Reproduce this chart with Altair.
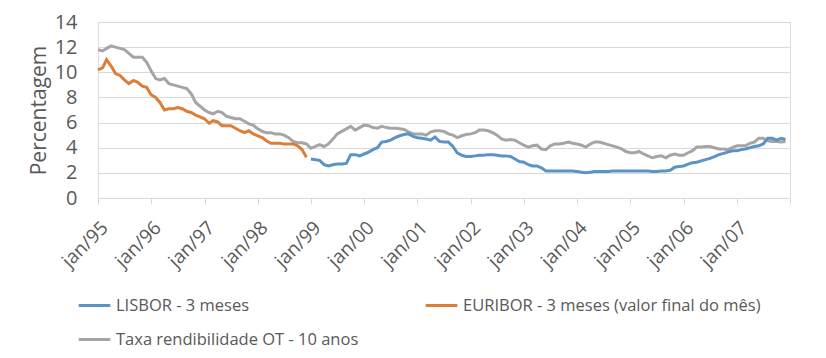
import altair as alt
import pandas as pd

# Monthly values, one list per year (jan..dec)
ot_10y = {
    1995: [11.8, 11.7, 11.9, 12.1, 12.0, 11.9, 11.8, 11.5, 11.2, 11.2, 11.2, 10.8],
    1996: [10.1, 9.5, 9.4, 9.5, 9.1, 9.0, 8.9, 8.8, 8.7, 8.3, 7.6, 7.3],
    1997: [7.0, 6.8, 6.7, 6.9, 6.8, 6.5, 6.4, 6.3, 6.3, 6.1, 5.9, 5.8],
    1998: [5.5, 5.3, 5.2, 5.2, 5.1, 5.1, 5.0, 4.8, 4.5, 4.4, 4.4, 4.3],
    1999: [3.95, 4.1, 4.25, 4.1, 4.3, 4.7, 5.1, 5.3, 5.5, 5.7, 5.4, 5.6],
    2000: [5.8, 5.75, 5.6, 5.55, 5.7, 5.6, 5.55, 5.55, 5.5, 5.45, 5.25, 5.1],
    2001: [5.1, 5.1, 5.0, 5.25, 5.35, 5.35, 5.3, 5.1, 5.0, 4.8, 4.95, 5.05],
    2002: [5.1, 5.2, 5.4, 5.4, 5.35, 5.2, 5.0, 4.7, 4.6, 4.65, 4.6, 4.4],
    2003: [4.2, 4.05, 4.15, 4.2, 3.9, 3.85, 4.15, 4.3, 4.3, 4.35, 4.45, 4.35],
    2004: [4.3, 4.2, 4.05, 4.3, 4.45, 4.45, 4.35, 4.25, 4.15, 4.05, 3.9, 3.7],
    2005: [3.6, 3.6, 3.7, 3.5, 3.35, 3.2, 3.3, 3.35, 3.2, 3.4, 3.5, 3.4],
    2006: [3.4, 3.6, 3.75, 4.05, 4.05, 4.1, 4.1, 4.0, 3.9, 3.9, 3.85, 4.0],
    2007: [4.15, 4.15, 4.15, 4.35, 4.45, 4.75, 4.75, 4.55, 4.5, 4.5, 4.45, 4.5],
}

orange_series = {
    1995: [10.2, 10.35, 11.0, 10.5, 9.9, 9.75, 9.4, 9.1, 9.35, 9.2, 8.9, 8.8],
    1996: [8.2, 8.0, 7.6, 7.0, 7.1, 7.1, 7.2, 7.1, 6.9, 6.8, 6.6, 6.45],
    1997: [6.3, 5.95, 6.15, 6.05, 5.75, 5.75, 5.75, 5.55, 5.35, 5.2, 5.35, 5.1],
    1998: [4.95, 4.8, 4.55, 4.35, 4.35, 4.35, 4.3, 4.3, 4.3, 4.15, 3.85, 3.25],
}

blue_series = {
    1999: [3.1, 3.05, 3.0, 2.65, 2.55, 2.65, 2.7, 2.7, 2.75, 3.45, 3.45, 3.35],
    2000: [3.5, 3.65, 3.85, 4.0, 4.45, 4.5, 4.6, 4.8, 4.95, 5.05, 5.1, 4.9],
    2001: [4.8, 4.75, 4.7, 4.6, 4.85, 4.5, 4.45, 4.45, 4.1, 3.6, 3.4, 3.3],
    2002: [3.3, 3.35, 3.4, 3.4, 3.45, 3.45, 3.4, 3.35, 3.35, 3.3, 3.1, 2.9],
    2003: [2.85, 2.65, 2.55, 2.55, 2.4, 2.15, 2.15, 2.15, 2.15, 2.15, 2.15, 2.15],
    2004: [2.1, 2.05, 2.0, 2.05, 2.1, 2.1, 2.1, 2.1, 2.15, 2.15, 2.15, 2.15],
    2005: [2.15, 2.15, 2.15, 2.15, 2.15, 2.1, 2.1, 2.15, 2.15, 2.2, 2.45, 2.5],
    2006: [2.55, 2.7, 2.8, 2.85, 2.95, 3.05, 3.15, 3.3, 3.45, 3.55, 3.65, 3.75],
    2007: [3.75, 3.85, 3.9, 4.0, 4.1, 4.15, 4.3, 4.75, 4.75, 4.6, 4.75, 4.65],
}

# legend fills column by column: LISBOR, Taxa | EURIBOR
series_names = [
    "LISBOR - 3 meses",
    "Taxa rendibilidade OT - 10 anos",
    "EURIBOR - 3 meses (valor final do mês)",
]
series_colors = ["#5b93c7", "#a5a5a5", "#dc7e3a"]

rows = []
def add(name, d):
    for yr, vals in d.items():
        for m, v in enumerate(vals):
            rows.append({"date": f"{yr}-{m+1:02d}-01", "serie": name, "valor": v})

add(series_names[1], ot_10y)
add(series_names[2], orange_series)
add(series_names[0], blue_series)
df = pd.DataFrame(rows)

font = "Open Sans"
txt = "#595959"

chart = alt.Chart(df).mark_line(strokeWidth=3).encode(
    x=alt.X("date:T",
            scale=alt.Scale(domain=["1995-01-01T00:00:00", "2008-01-01T00:00:00"]),
            axis=alt.Axis(title=None, grid=False, values=[f"{y}-01-01T00:00:00" for y in range(1995, 2009)],
                          labelExpr="year(datum.value) >= 2008 ? '' : 'jan/' + timeFormat(datum.value, '%y')",
                          labelAngle=-45, labelFontSize=19, labelFont=font, labelColor=txt,
                          labelOverlap=False, labelBound=False, labelFlush=False,
                          domainColor="#d9d9d9", tickColor="#d9d9d9", tickSize=6,
                          labelPadding=14)),
    y=alt.Y("valor:Q",
            scale=alt.Scale(domain=[0, 14]),
            axis=alt.Axis(title="Percentagem", values=list(range(0, 15, 2)), domain=False, ticks=False,
                          gridColor="#d9d9d9", labelFontSize=20, labelFont=font, labelColor=txt,
                          labelPadding=21, titleFontSize=21, titleFont=font, titleColor=txt,
                          titleFontWeight="normal", titlePadding=5)),
    color=alt.Color("serie:N",
                    scale=alt.Scale(domain=series_names, range=series_colors),
                    legend=alt.Legend(title=None, orient="none", legendX=-21, legendY=266,
                                      columns=2, columnPadding=60, rowPadding=8,
                                      symbolType="stroke", symbolSize=1000, symbolStrokeWidth=3,
                                      labelFontSize=16.5, labelFont=font, labelColor=txt,
                                      labelOffset=4, labelLimit=0)),
    detail="serie:N",
).properties(
    width=692, height=176,
    autosize=alt.AutoSizeParams(type="none"),
    padding={"left": 90, "top": 14, "right": 28, "bottom": 152},
).configure_view(stroke=None).configure(background="white")

chart.save("out.html", embed_options={"renderer": "svg", "actions": False})
